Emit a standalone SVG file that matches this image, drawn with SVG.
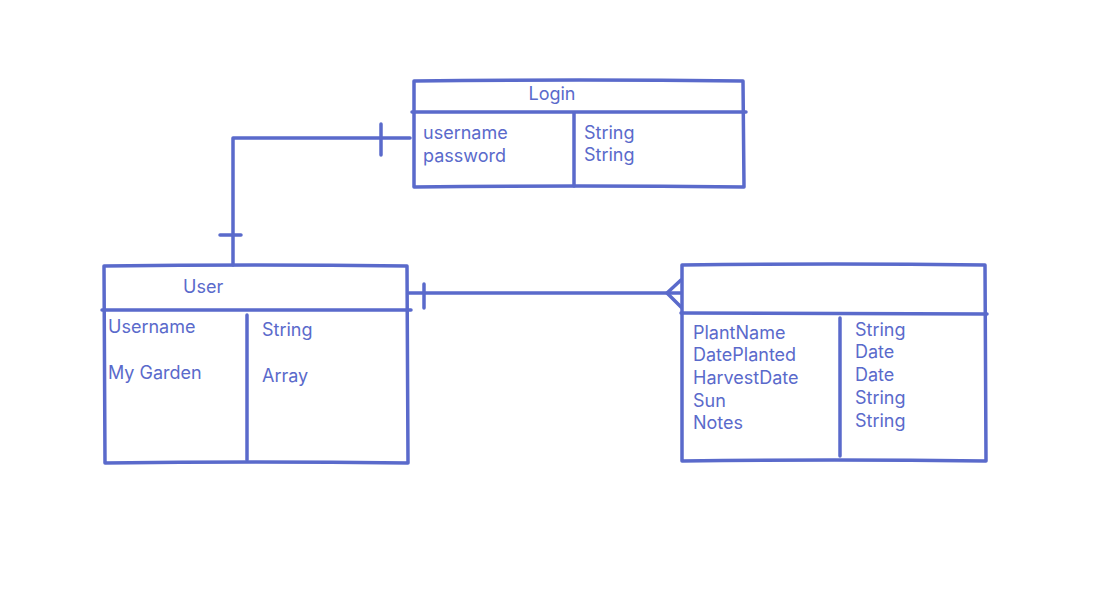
<svg xmlns="http://www.w3.org/2000/svg" width="1100" height="595" viewBox="0 0 1100 595">
<style>
.ln{fill:none;stroke:#5a6acb;stroke-width:3.5;stroke-linecap:round;stroke-linejoin:round}
.t{font-family:Inter,"Liberation Sans",sans-serif;font-size:18px;fill:#5a6acb}
</style>
<rect width="1100" height="595" fill="#fff"/>
<g id="connectors">
<path class="ln" d="M410,138 L233,138 L233,265"/>
<path class="ln" d="M381,124 L381,155"/>
<path class="ln" d="M220,235 L241,235"/>
<path class="ln" d="M409,293 L681,293"/>
<path class="ln" d="M424,284 L424,308"/>
<path class="ln" d="M681,280 L667,293 L681,307"/>
</g>
<g id="login">
<path class="ln" d="M414,81 Q580,79 743,81 L744,187 Q580,185 414,187 Z"/>
<path class="ln" d="M412,112 L746,112"/>
<path class="ln" d="M574,113 L574,186"/>
<text class="t" x="552" y="100" text-anchor="middle">Login</text>
<text class="t" x="423" y="139">username</text>
<text class="t" x="423" y="162">password</text>
<text class="t" x="584" y="139">String</text>
<text class="t" x="584" y="161">String</text>
</g>
<g id="user">
<path class="ln" d="M104,266 Q255,264 407,266 L408,463 Q255,461 105,463 Z"/>
<path class="ln" d="M102,310 L411,310"/>
<path class="ln" d="M247,315 L247,460"/>
<text class="t" x="183" y="293">User</text>
<text class="t" x="108" y="333">Username</text>
<text class="t" x="108" y="379">My Garden</text>
<text class="t" x="262" y="336">String</text>
<text class="t" x="262" y="382">Array</text>
</g>
<g id="plant">
<path class="ln" d="M682,265 Q835,263 985,265 L986,461 Q835,459 682,461 Z"/>
<path class="ln" d="M681,313 L987,314"/>
<path class="ln" d="M840,318 L840,456"/>
<text class="t" x="693" y="339">PlantName</text>
<text class="t" x="693" y="361">DatePlanted</text>
<text class="t" x="693" y="384">HarvestDate</text>
<text class="t" x="693" y="407">Sun</text>
<text class="t" x="693" y="429">Notes</text>
<text class="t" x="855" y="336">String</text>
<text class="t" x="855" y="358">Date</text>
<text class="t" x="855" y="381">Date</text>
<text class="t" x="855" y="404">String</text>
<text class="t" x="855" y="427">String</text>
</g>
</svg>
